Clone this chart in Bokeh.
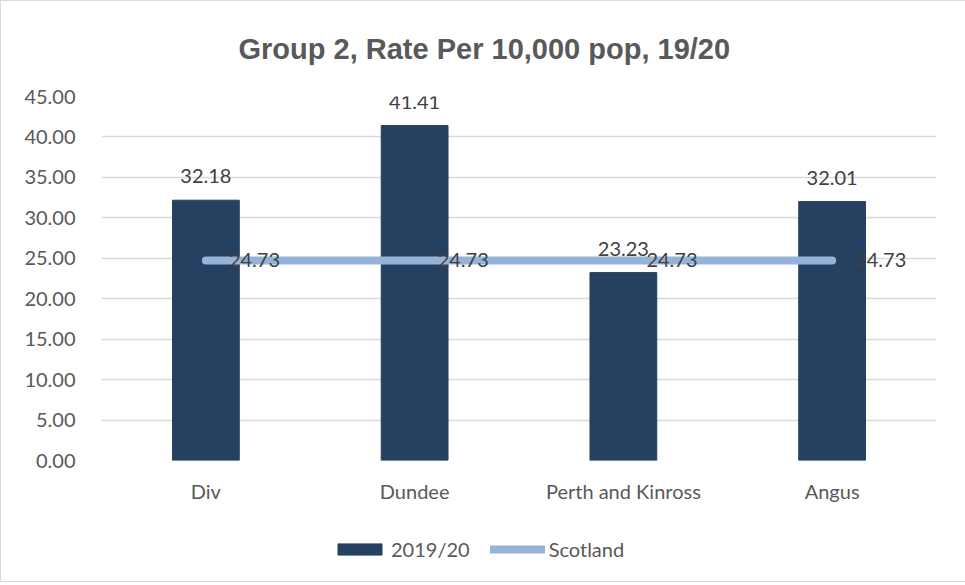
from bokeh.plotting import figure
from bokeh.layouts import column
from bokeh.models import (ColumnDataSource, FactorRange, Range1d, LabelSet,
                          NumeralTickFormatter, Legend, LegendItem, Title, FixedTicker)
from bokeh.core.properties import value
from bokeh.embed import file_html
from bokeh.resources import INLINE

categories = ["Div", "Dundee", "Perth and Kinross", "Angus"]
values_2019_20 = [32.18, 41.41, 23.23, 32.01]
scotland = [24.73, 24.73, 24.73, 24.73]
y_ticks = [0, 5, 10, 15, 20, 25, 30, 35, 40, 45]
series_names = ["2019/20", "Scotland"]

FONT = "Lato"
BAR = "#264061"
LINE = "#95B3D7"
GRID = "#d9d9d9"
TXT = "#595959"
LBL = "#404040"

src = ColumnDataSource(dict(
    cat=categories,
    val=values_2019_20,
    sco=scotland,
    val_txt=[f"{v:.2f}" for v in values_2019_20],
    sco_txt=[f"{v:.2f}" for v in scotland],
))

p = figure(x_range=FactorRange(*categories), y_range=Range1d(0, 45),
           frame_width=835, frame_height=364,
           output_backend="svg", toolbar_location=None,
           min_border_left=100, min_border_right=29, min_border_top=95,
           min_border_bottom=64)
p.outline_line_color = None
p.background_fill_color = "white"
p.border_fill_color = "white"

p.title = Title(text="Group 2, Rate Per 10,000 pop, 19/20", align="left",
                offset=137, vertical_align="top",
                text_font="Liberation Sans", text_font_size="29px",
                text_font_style="bold", text_color=TXT, standoff=60)

bars = p.vbar(x="cat", top="val", width=0.32, source=src, fill_color=BAR,
              line_color=BAR)
ln = p.line(x="cat", y="sco", source=src, line_color=LINE, line_width=8,
            line_cap="round")

p.add_layout(LabelSet(x="cat", y="val", text="val_txt", source=src,
                      text_align="center", text_baseline="middle", y_offset=24,
                      text_font=value(FONT), text_font_size="20px", text_color=LBL))
p.add_layout(LabelSet(x="cat", y="sco", text="sco_txt", source=src,
                      text_align="left", text_baseline="middle", x_offset=23,
                      text_font=value(FONT), text_font_size="20px", text_color=LBL))

p.xgrid.grid_line_color = None
p.ygrid.grid_line_color = GRID
p.ygrid.grid_line_width = 1.5
p.yaxis.ticker = FixedTicker(ticks=y_ticks)
p.yaxis.formatter = NumeralTickFormatter(format="0.00")
for ax in (p.xaxis, p.yaxis):
    ax.axis_line_color = None
    ax.major_tick_line_color = None
    ax.minor_tick_line_color = None
    ax.major_label_text_font = FONT
    ax.major_label_text_font_size = "20px"
    ax.major_label_text_color = TXT
p.yaxis.major_label_standoff = 20
p.xaxis.major_label_standoff = 12

# legend strip below the chart; its renderers share the data but lie outside its view
pl = figure(x_range=FactorRange(*categories), y_range=Range1d(1000, 1001),
            frame_width=964, frame_height=57, output_backend="svg",
            toolbar_location=None, min_border=0, x_axis_type=None,
            y_axis_type=None)
pl.outline_line_color = None
pl.grid.visible = False
lb = pl.vbar(x="cat", top="val", width=0.32, source=src, fill_color=BAR,
             line_color=BAR)
ll = pl.line(x="cat", y="sco", source=src, line_color=LINE, line_width=8,
             line_cap="round")
legend = Legend(items=[LegendItem(label=series_names[0], renderers=[lb]),
                       LegendItem(label=series_names[1], renderers=[ll])],
                orientation="horizontal", location=(331, 20),
                label_text_font=FONT, label_text_font_size="20px",
                label_text_color=TXT, glyph_width=55, glyph_height=14,
                label_standoff=4, spacing=20, border_line_color=None,
                background_fill_alpha=0, margin=0, padding=4)
pl.add_layout(legend, "center")

layout = column(p, pl, spacing=0, styles={"border": "1px solid #d9d9d9"})
open("out.html", "w").write(file_html(layout, INLINE))
